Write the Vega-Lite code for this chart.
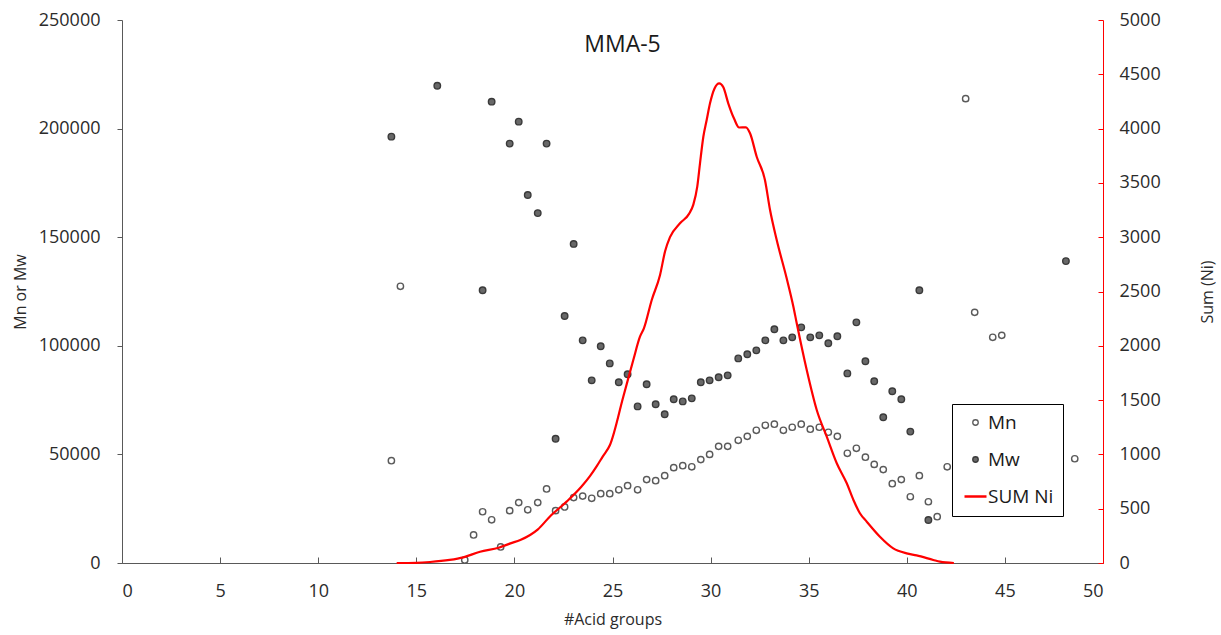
{
  "$schema": "https://vega.github.io/schema/vega-lite/v6.json",
  "width": 981,
  "height": 543,
  "autosize": {"type": "none"},
  "padding": {"left": 122, "top": 20, "right": 118, "bottom": 72},
  "background": "white",
  "config": {
    "view": {"stroke": null},
    "font": "Open Sans",
    "axis": {"grid": false, "labelFont": "Open Sans", "titleFont": "Open Sans", "titleFontWeight": "normal"}
  },
  "title": {
    "text": "MMA-5",
    "orient": "top",
    "anchor": "middle",
    "offset": -32,
    "baseline": "alphabetic",
    "dx": 10,
    "dy": 32,
    "fontSize": 23,
    "fontWeight": "normal",
    "color": "#1a1a1a"
  },
  "datasets": {
    "pts": [
      {"g": 13.73, "s": "Mn", "v": 47100},
      {"g": 14.19, "s": "Mn", "v": 127400},
      {"g": 17.47, "s": "Mn", "v": 1400},
      {"g": 17.92, "s": "Mn", "v": 12900},
      {"g": 18.38, "s": "Mn", "v": 23600},
      {"g": 18.84, "s": "Mn", "v": 19900},
      {"g": 19.30, "s": "Mn", "v": 7400},
      {"g": 19.76, "s": "Mn", "v": 24100},
      {"g": 20.22, "s": "Mn", "v": 27800},
      {"g": 20.68, "s": "Mn", "v": 24500},
      {"g": 21.19, "s": "Mn", "v": 27800},
      {"g": 21.64, "s": "Mn", "v": 34100},
      {"g": 22.10, "s": "Mn", "v": 24100},
      {"g": 22.56, "s": "Mn", "v": 25800},
      {"g": 23.02, "s": "Mn", "v": 30100},
      {"g": 23.48, "s": "Mn", "v": 30800},
      {"g": 23.94, "s": "Mn", "v": 29800},
      {"g": 24.40, "s": "Mn", "v": 31900},
      {"g": 24.86, "s": "Mn", "v": 31900},
      {"g": 25.32, "s": "Mn", "v": 33700},
      {"g": 25.77, "s": "Mn", "v": 35600},
      {"g": 26.28, "s": "Mn", "v": 33700},
      {"g": 26.74, "s": "Mn", "v": 38400},
      {"g": 27.20, "s": "Mn", "v": 37900},
      {"g": 27.66, "s": "Mn", "v": 40200},
      {"g": 28.12, "s": "Mn", "v": 43900},
      {"g": 28.58, "s": "Mn", "v": 44800},
      {"g": 29.04, "s": "Mn", "v": 44300},
      {"g": 29.50, "s": "Mn", "v": 47600},
      {"g": 29.95, "s": "Mn", "v": 50000},
      {"g": 30.41, "s": "Mn", "v": 53700},
      {"g": 30.87, "s": "Mn", "v": 53700},
      {"g": 31.41, "s": "Mn", "v": 56500},
      {"g": 31.87, "s": "Mn", "v": 58300},
      {"g": 32.33, "s": "Mn", "v": 61100},
      {"g": 32.79, "s": "Mn", "v": 63400},
      {"g": 33.25, "s": "Mn", "v": 63900},
      {"g": 33.71, "s": "Mn", "v": 61100},
      {"g": 34.16, "s": "Mn", "v": 62500},
      {"g": 34.62, "s": "Mn", "v": 63900},
      {"g": 35.08, "s": "Mn", "v": 61600},
      {"g": 35.54, "s": "Mn", "v": 62500},
      {"g": 36.00, "s": "Mn", "v": 60200},
      {"g": 36.46, "s": "Mn", "v": 58300},
      {"g": 36.97, "s": "Mn", "v": 50500},
      {"g": 37.43, "s": "Mn", "v": 52800},
      {"g": 37.89, "s": "Mn", "v": 48700},
      {"g": 38.34, "s": "Mn", "v": 45400},
      {"g": 38.80, "s": "Mn", "v": 43000},
      {"g": 39.26, "s": "Mn", "v": 36500},
      {"g": 39.72, "s": "Mn", "v": 38400},
      {"g": 40.18, "s": "Mn", "v": 30500},
      {"g": 40.64, "s": "Mn", "v": 40200},
      {"g": 41.10, "s": "Mn", "v": 28200},
      {"g": 41.55, "s": "Mn", "v": 21300},
      {"g": 42.06, "s": "Mn", "v": 44300},
      {"g": 43.00, "s": "Mn", "v": 213800},
      {"g": 43.46, "s": "Mn", "v": 115400},
      {"g": 44.38, "s": "Mn", "v": 103900},
      {"g": 44.84, "s": "Mn", "v": 104800},
      {"g": 48.56, "s": "Mn", "v": 48000},
      {"g": 13.73, "s": "Mw", "v": 196300},
      {"g": 16.07, "s": "Mw", "v": 219750},
      {"g": 18.38, "s": "Mw", "v": 125600},
      {"g": 18.84, "s": "Mw", "v": 212400},
      {"g": 19.76, "s": "Mw", "v": 193100},
      {"g": 20.22, "s": "Mw", "v": 203200},
      {"g": 20.68, "s": "Mw", "v": 169400},
      {"g": 21.19, "s": "Mw", "v": 161100},
      {"g": 21.64, "s": "Mw", "v": 193100},
      {"g": 22.10, "s": "Mw", "v": 57200},
      {"g": 22.56, "s": "Mw", "v": 113700},
      {"g": 23.02, "s": "Mw", "v": 146900},
      {"g": 23.48, "s": "Mw", "v": 102500},
      {"g": 23.94, "s": "Mw", "v": 84100},
      {"g": 24.40, "s": "Mw", "v": 99800},
      {"g": 24.86, "s": "Mw", "v": 91900},
      {"g": 25.32, "s": "Mw", "v": 83200},
      {"g": 25.77, "s": "Mw", "v": 86900},
      {"g": 26.28, "s": "Mw", "v": 72100},
      {"g": 26.74, "s": "Mw", "v": 82300},
      {"g": 27.20, "s": "Mw", "v": 73100},
      {"g": 27.66, "s": "Mw", "v": 68500},
      {"g": 28.12, "s": "Mw", "v": 75400},
      {"g": 28.58, "s": "Mw", "v": 74400},
      {"g": 29.04, "s": "Mw", "v": 75800},
      {"g": 29.50, "s": "Mw", "v": 83200},
      {"g": 29.95, "s": "Mw", "v": 84100},
      {"g": 30.41, "s": "Mw", "v": 85500},
      {"g": 30.87, "s": "Mw", "v": 86400},
      {"g": 31.41, "s": "Mw", "v": 94200},
      {"g": 31.87, "s": "Mw", "v": 96100},
      {"g": 32.33, "s": "Mw", "v": 97900},
      {"g": 32.79, "s": "Mw", "v": 102500},
      {"g": 33.25, "s": "Mw", "v": 107600},
      {"g": 33.71, "s": "Mw", "v": 102500},
      {"g": 34.16, "s": "Mw", "v": 103900},
      {"g": 34.62, "s": "Mw", "v": 108500},
      {"g": 35.08, "s": "Mw", "v": 103900},
      {"g": 35.54, "s": "Mw", "v": 104800},
      {"g": 36.00, "s": "Mw", "v": 101200},
      {"g": 36.46, "s": "Mw", "v": 104400},
      {"g": 36.97, "s": "Mw", "v": 87300},
      {"g": 37.43, "s": "Mw", "v": 110800},
      {"g": 37.89, "s": "Mw", "v": 92900},
      {"g": 38.34, "s": "Mw", "v": 83700},
      {"g": 38.80, "s": "Mw", "v": 67100},
      {"g": 39.26, "s": "Mw", "v": 79100},
      {"g": 39.72, "s": "Mw", "v": 75400},
      {"g": 40.18, "s": "Mw", "v": 60500},
      {"g": 40.64, "s": "Mw", "v": 125600},
      {"g": 41.10, "s": "Mw", "v": 19800},
      {"g": 48.11, "s": "Mw", "v": 139000}
    ],
    "ni": [
      {"g": 14.0, "s": "SUM Ni", "ni": 0},
      {"g": 15.0, "s": "SUM Ni", "ni": 2},
      {"g": 15.7, "s": "SUM Ni", "ni": 9},
      {"g": 16.7, "s": "SUM Ni", "ni": 28},
      {"g": 17.4, "s": "SUM Ni", "ni": 52},
      {"g": 18.25, "s": "SUM Ni", "ni": 104},
      {"g": 19.2, "s": "SUM Ni", "ni": 141},
      {"g": 19.8, "s": "SUM Ni", "ni": 181},
      {"g": 20.3, "s": "SUM Ni", "ni": 212},
      {"g": 20.8, "s": "SUM Ni", "ni": 258},
      {"g": 21.2, "s": "SUM Ni", "ni": 310},
      {"g": 21.8, "s": "SUM Ni", "ni": 426},
      {"g": 22.66, "s": "SUM Ni", "ni": 565},
      {"g": 23.4, "s": "SUM Ni", "ni": 700},
      {"g": 23.85, "s": "SUM Ni", "ni": 800},
      {"g": 24.19, "s": "SUM Ni", "ni": 890},
      {"g": 24.5, "s": "SUM Ni", "ni": 980},
      {"g": 24.87, "s": "SUM Ni", "ni": 1087},
      {"g": 25.55, "s": "SUM Ni", "ni": 1531},
      {"g": 26.06, "s": "SUM Ni", "ni": 1869},
      {"g": 26.4, "s": "SUM Ni", "ni": 2084},
      {"g": 26.6, "s": "SUM Ni", "ni": 2160},
      {"g": 27.0, "s": "SUM Ni", "ni": 2422},
      {"g": 27.42, "s": "SUM Ni", "ni": 2650},
      {"g": 27.68, "s": "SUM Ni", "ni": 2870},
      {"g": 27.93, "s": "SUM Ni", "ni": 3000},
      {"g": 28.44, "s": "SUM Ni", "ni": 3128},
      {"g": 28.9, "s": "SUM Ni", "ni": 3215},
      {"g": 29.12, "s": "SUM Ni", "ni": 3300},
      {"g": 29.32, "s": "SUM Ni", "ni": 3465},
      {"g": 29.46, "s": "SUM Ni", "ni": 3680},
      {"g": 29.63, "s": "SUM Ni", "ni": 3925},
      {"g": 29.8, "s": "SUM Ni", "ni": 4079},
      {"g": 29.97, "s": "SUM Ni", "ni": 4233},
      {"g": 30.2, "s": "SUM Ni", "ni": 4370},
      {"g": 30.44, "s": "SUM Ni", "ni": 4417},
      {"g": 30.65, "s": "SUM Ni", "ni": 4380},
      {"g": 30.9, "s": "SUM Ni", "ni": 4233},
      {"g": 31.2, "s": "SUM Ni", "ni": 4090},
      {"g": 31.45, "s": "SUM Ni", "ni": 4010},
      {"g": 31.8, "s": "SUM Ni", "ni": 4012},
      {"g": 32.01, "s": "SUM Ni", "ni": 3957},
      {"g": 32.35, "s": "SUM Ni", "ni": 3741},
      {"g": 32.77, "s": "SUM Ni", "ni": 3527},
      {"g": 33.03, "s": "SUM Ni", "ni": 3250},
      {"g": 33.37, "s": "SUM Ni", "ni": 2974},
      {"g": 33.88, "s": "SUM Ni", "ni": 2620},
      {"g": 34.22, "s": "SUM Ni", "ni": 2360},
      {"g": 34.39, "s": "SUM Ni", "ni": 2207},
      {"g": 34.9, "s": "SUM Ni", "ni": 1777},
      {"g": 35.41, "s": "SUM Ni", "ni": 1409},
      {"g": 35.92, "s": "SUM Ni", "ni": 1163},
      {"g": 36.43, "s": "SUM Ni", "ni": 918},
      {"g": 36.94, "s": "SUM Ni", "ni": 734},
      {"g": 37.28, "s": "SUM Ni", "ni": 580},
      {"g": 37.61, "s": "SUM Ni", "ni": 458},
      {"g": 37.96, "s": "SUM Ni", "ni": 380},
      {"g": 38.63, "s": "SUM Ni", "ni": 242},
      {"g": 39.31, "s": "SUM Ni", "ni": 135},
      {"g": 39.99, "s": "SUM Ni", "ni": 89},
      {"g": 40.5, "s": "SUM Ni", "ni": 70},
      {"g": 41.35, "s": "SUM Ni", "ni": 28},
      {"g": 41.69, "s": "SUM Ni", "ni": 12},
      {"g": 42.4, "s": "SUM Ni", "ni": 0}
    ]
  },
  "layer": [
    {
      "layer": [
        {
          "data": {"name": "pts"},
          "transform": [{"filter": "datum.s === 'Mn'"}],
          "mark": {"type": "circle", "size": 40, "strokeWidth": 1.4, "opacity": 1, "fill": "#ffffff", "stroke": "#5a5a5a"},
          "encoding": {
            "x": {
              "field": "g",
              "type": "quantitative",
              "scale": {"domain": [0, 50], "nice": false, "zero": false},
              "axis": {
                "title": "#Acid groups",
                "values": [0, 5, 10, 15, 20, 25, 30, 35, 40, 45, 50],
                "format": "d",
                "domainColor": "#595959",
                "tickColor": "#595959",
                "tickSize": -6,
                "labelPadding": 25,
                "labelFontSize": 18,
                "labelColor": "#2b2b2b",
                "titleFontSize": 16,
                "titleColor": "#2b2b2b",
                "titlePadding": 11
              }
            },
            "y": {
              "field": "v",
              "type": "quantitative",
              "scale": {"domain": [0, 250000], "nice": false},
              "axis": {
                "title": "Mn or Mw",
                "values": [0, 50000, 100000, 150000, 200000, 250000],
                "format": "d",
                "domainColor": "#595959",
                "tickColor": "#595959",
                "tickSize": 5,
                "labelPadding": 17,
                "labelFontSize": 18,
                "labelColor": "#2b2b2b",
                "titleFontSize": 16,
                "titleColor": "#2b2b2b",
                "titlePadding": 10
              }
            }
          }
        },
        {
          "data": {"name": "pts"},
          "transform": [{"filter": "datum.s === 'Mw'"}],
          "mark": {"type": "circle", "size": 42, "strokeWidth": 1.4, "opacity": 1, "fill": "#686868", "stroke": "#3a3a3a"},
          "encoding": {
            "x": {"field": "g", "type": "quantitative"},
            "y": {"field": "v", "type": "quantitative"}
          }
        }
      ]
    },
    {
      "data": {"name": "ni"},
      "mark": {"type": "line", "interpolate": "monotone", "strokeWidth": 2.2},
      "encoding": {
        "x": {"field": "g", "type": "quantitative"},
        "y": {
          "field": "ni",
          "type": "quantitative",
          "scale": {"domain": [0, 5000], "nice": false},
          "axis": {
            "orient": "right",
            "title": "Sum (Ni)",
            "titleAngle": 270,
            "titleX": 104,
            "titleBaseline": "middle",
            "titleAlign": "center",
            "values": [0, 500, 1000, 1500, 2000, 2500, 3000, 3500, 4000, 4500, 5000],
            "format": "d",
            "domainColor": "#ff0000",
            "tickColor": "#ff0000",
            "tickSize": -5,
            "labelPadding": 21,
            "labelFontSize": 18,
            "labelColor": "#2b2b2b",
            "titleFontSize": 16,
            "titleColor": "#2b2b2b"
          }
        },
        "stroke": {
          "field": "s",
          "type": "nominal",
          "scale": {"domain": ["Mn", "Mw", "SUM Ni"], "range": ["#5a5a5a", "#3a3a3a", "#ff0000"]},
          "legend": {
            "title": null,
            "orient": "none",
            "legendX": 830,
            "legendY": 384,
            "direction": "vertical",
            "fillColor": "white",
            "strokeColor": "#000000",
            "padding": 9,
            "labelFontSize": 19,
            "labelColor": "#1a1a1a",
            "labelFont": "Open Sans",
            "symbolSize": 484,
            "symbolType": "stroke",
            "symbolStrokeWidth": 2.5,
            "rowPadding": 17,
            "labelOffset": 3,
            "symbolOffset": 5,
            "encode": {
              "symbols": {
                "update": {
                  "shape": {"signal": "datum.value === 'SUM Ni' ? 'stroke' : 'circle'"},
                  "size": {"signal": "datum.value === 'SUM Ni' ? 484 : 30"},
                  "fill": {"signal": "datum.value === 'Mn' ? '#ffffff' : datum.value === 'Mw' ? '#686868' : 'transparent'"},
                  "stroke": {"signal": "datum.value === 'Mn' ? '#5a5a5a' : datum.value === 'Mw' ? '#3a3a3a' : '#ff0000'"},
                  "strokeWidth": {"signal": "datum.value === 'SUM Ni' ? 2.5 : 1.3"},
                  "opacity": {"value": 1}
                }
              }
            }
          }
        }
      }
    }
  ],
  "resolve": {"scale": {"y": "independent"}}
}
